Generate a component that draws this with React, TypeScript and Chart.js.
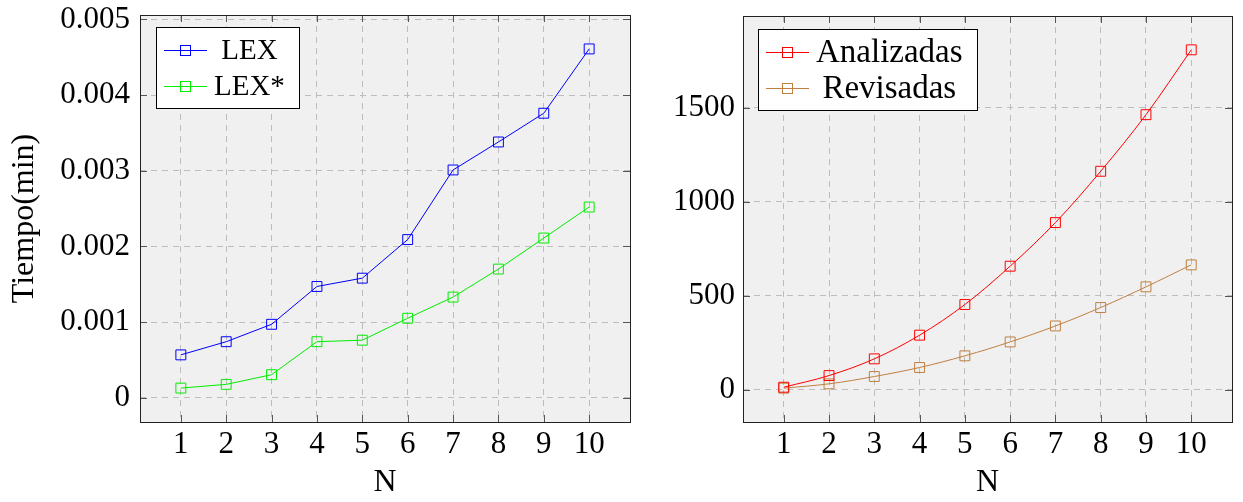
import React, { useEffect, useRef } from "react";
import { Chart, registerables } from "chart.js";

Chart.register(...registerables);

// ---- data ----
const nValues = [1, 2, 3, 4, 5, 6, 7, 8, 9, 10];
const lexTimes = [0.000566, 0.00074, 0.00097, 0.00147, 0.00158, 0.00209, 0.00301, 0.00338, 0.00376, 0.00461];
const lexStarTimes = [0.000127, 0.000176, 0.000304, 0.00074, 0.00076, 0.00105, 0.00133, 0.0017, 0.00211, 0.00252];
const analizadas = [14, 76, 165, 291, 454, 658, 890, 1163, 1464, 1809];
const revisadas = [9, 32, 71, 119, 181, 255, 340, 438, 548, 665];
const leftYTicks = [0, 0.001, 0.002, 0.003, 0.004, 0.005];
const rightYTicks = [0, 500, 1000, 1500];
const xTickValues = nValues;

const FONT = "'Liberation Serif', 'DejaVu Serif', serif";
const TICK_SIZE = 31;
const TITLE_SIZE = 32;

function enlarge(values: number[]) {
  const lo = Math.min(...values);
  const hi = Math.max(...values);
  const d = (hi - lo) * 0.1;
  return { min: lo - d, max: hi + d };
}

function makeOverlay(legendDx: number, legendDy: number, legendSize: number) {
  return {
    id: "pgfOverlay",
    beforeDraw(chart: any) {
      const { ctx, chartArea: a } = chart;
      ctx.save();
      ctx.fillStyle = "#f0f0f0";
      ctx.fillRect(a.left, a.top, a.right - a.left, a.bottom - a.top);
      ctx.restore();
    },
    beforeDatasetsDraw(chart: any) {
      const { ctx, chartArea: a, scales } = chart;
      const tl = 7;
      ctx.save();
      ctx.strokeStyle = "#555";
      ctx.lineWidth = 1;
      ctx.beginPath();
      scales.x.ticks.forEach((t: any) => {
        const px = Math.round(scales.x.getPixelForValue(t.value)) + 0.5;
        ctx.moveTo(px, a.bottom);
        ctx.lineTo(px, a.bottom - tl);
        ctx.moveTo(px, a.top);
        ctx.lineTo(px, a.top + tl);
      });
      scales.y.ticks.forEach((t: any) => {
        const py = Math.round(scales.y.getPixelForValue(t.value)) + 0.5;
        ctx.moveTo(a.left, py);
        ctx.lineTo(a.left + tl, py);
        ctx.moveTo(a.right, py);
        ctx.lineTo(a.right - tl, py);
      });
      ctx.stroke();
      ctx.restore();
    },
    afterDatasetsDraw(chart: any) {
      const { ctx, chartArea: a } = chart;
      ctx.save();
      // frame
      ctx.strokeStyle = "#222";
      ctx.lineWidth = 1;
      ctx.strokeRect(Math.round(a.left) + 0.5, Math.round(a.top) + 0.5, Math.round(a.right - a.left), Math.round(a.bottom - a.top));
      // legend
      ctx.font = `${legendSize}px ${FONT}`;
      const dss = chart.data.datasets;
      const tw = Math.max(...dss.map((d: any) => ctx.measureText(d.label).width));
      const x0 = Math.round(a.left + legendDx);
      const y0 = Math.round(a.top + legendDy);
      const w = Math.round(58 + tw + 14);
      const h = 81;
      ctx.fillStyle = "#fff";
      ctx.fillRect(x0, y0, w, h);
      ctx.strokeStyle = "#000";
      ctx.strokeRect(x0 + 0.5, y0 + 0.5, w, h);
      dss.forEach((ds: any, i: number) => {
        const cy = y0 + 23 + i * 36 + 0.5;
        ctx.strokeStyle = ds.borderColor;
        ctx.lineWidth = 1;
        ctx.beginPath();
        ctx.moveTo(x0 + 8, cy);
        ctx.lineTo(x0 + 51, cy);
        ctx.stroke();
        ctx.strokeRect(x0 + 24.5, cy - 5, 10, 10);
        ctx.fillStyle = "#000";
        ctx.textAlign = "center";
        ctx.textBaseline = "middle";
        ctx.fillText(ds.label, x0 + 58 + tw / 2, cy + 1);
      });
      ctx.restore();
    },
  };
}

function buildConfig(p: {
  labels: string[];
  series: number[][];
  colors: string[];
  yTicks: number[];
  yFormat: (v: number) => string;
  yTitle: string | null;
  yAxisWidth: number;
  padRight: number;
  padTop: number;
  legendDx: number;
  legendDy: number;
  legendSize: number;
  tension: number;
  tickPadY: number;
}): any {
  const all = p.series.flat();
  const yr = enlarge(all);
  const tickFont = { family: FONT, size: TICK_SIZE };
  const titleFont = { family: FONT, size: TITLE_SIZE };
  return {
    type: "line",
    data: {
      datasets: p.series.map((vals, i) => ({
        label: p.labels[i],
        data: nValues.map((n, j) => ({ x: n, y: vals[j] })),
        borderColor: p.colors[i],
        backgroundColor: p.colors[i],
        borderWidth: 1,
        pointStyle: "rect",
        pointRadius: 7,
        pointHoverRadius: 7,
        pointBorderWidth: 1,
        pointBorderColor: p.colors[i],
        pointBackgroundColor: "rgba(0,0,0,0)",
        tension: p.tension,
        fill: false,
      })),
    },
    options: {
      animation: false,
      responsive: false,
      events: [],
      layout: { padding: { left: 0, right: p.padRight, top: p.padTop, bottom: 0 } },
      plugins: { legend: { display: false }, tooltip: { enabled: false } },
      scales: {
        x: {
          type: "linear",
          min: 0.1,
          max: 10.9,
          afterBuildTicks: (s: any) => {
            s.ticks = xTickValues.map((v) => ({ value: v }));
          },
          afterFit: (s: any) => {
            s.height = 80;
            s.paddingLeft = 0;
            s.paddingRight = 0;
          },
          grid: { color: "#bdbdbd", lineWidth: 1, drawTicks: false },
          border: { display: false, dash: [6, 5] },
          ticks: { font: tickFont, color: "#000", padding: 4, maxRotation: 0, autoSkip: false, callback: (v: number) => String(v) },
          title: { display: true, text: "N", font: titleFont, color: "#000", padding: { top: 0, bottom: 0 } },
        },
        y: {
          type: "linear",
          min: yr.min,
          max: yr.max,
          afterBuildTicks: (s: any) => {
            s.ticks = p.yTicks.map((v) => ({ value: v }));
          },
          afterFit: (s: any) => {
            s.width = p.yAxisWidth;
            s.paddingTop = 0;
            s.paddingBottom = 0;
          },
          grid: { color: "#bdbdbd", lineWidth: 1, drawTicks: false },
          border: { display: false, dash: [6, 5] },
          ticks: { font: tickFont, color: "#000", padding: p.tickPadY, autoSkip: false, callback: (v: number) => p.yFormat(v) },
          title: p.yTitle
            ? { display: true, text: p.yTitle, font: titleFont, color: "#000", padding: { top: 5, bottom: 0 } }
            : { display: false },
        },
      },
    },
    plugins: [makeOverlay(p.legendDx, p.legendDy, p.legendSize)],
  };
}

function ChartCanvas({ config, width, height }: { config: any; width: number; height: number }) {
  const ref = useRef<HTMLCanvasElement | null>(null);
  useEffect(() => {
    if (!ref.current) return;
    const chart = new Chart(ref.current, config);
    return () => chart.destroy();
  }, [config]);
  return <canvas ref={ref} width={width} height={height} style={{ display: "block", width, height }} />;
}

const leftConfig = buildConfig({
  labels: ["LEX", "LEX*"],
  series: [lexTimes, lexStarTimes],
  colors: ["#0000ff", "#00ee00"],
  yTicks: leftYTicks,
  yFormat: (v) => (v === 0 ? "0" : v.toFixed(3)),
  yTitle: "Tiempo(min)",
  yAxisWidth: 140,
  padRight: 10,
  padTop: 15,
  legendDx: 16,
  legendDy: 12,
  legendSize: 29,
  tension: 0,
  tickPadY: 10,
});

const rightConfig = buildConfig({
  labels: ["Analizadas", "Revisadas"],
  series: [analizadas, revisadas],
  colors: ["#ff0000", "#bf8040"],
  yTicks: rightYTicks,
  yFormat: (v) => String(v),
  yTitle: null,
  yAxisWidth: 103,
  padRight: 11,
  padTop: 16,
  legendDx: 15,
  legendDy: 13,
  legendSize: 33,
  tension: 0.35,
  tickPadY: 8,
});

export default function App() {
  return (
    <div style={{ position: "absolute", left: 0, top: 0, width: 1243, height: 502, background: "#fff" }}>
      <div style={{ position: "absolute", left: 0, top: 0 }}>
        <ChartCanvas config={leftConfig} width={640} height={502} />
      </div>
      <div style={{ position: "absolute", left: 640, top: 0 }}>
        <ChartCanvas config={rightConfig} width={603} height={502} />
      </div>
    </div>
  );
}
